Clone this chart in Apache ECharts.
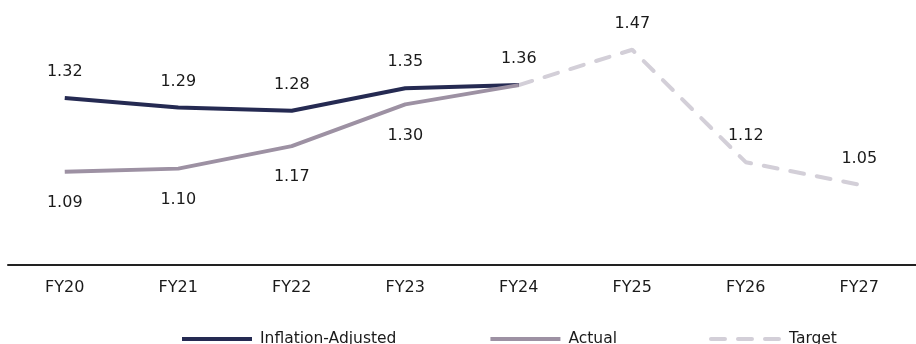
<!DOCTYPE html>
<html>
<head>
<meta charset="utf-8">
<script src="https://cdn.jsdelivr.net/npm/echarts@6/dist/echarts.min.js"></script>
<style>
  html, body { margin: 0; padding: 0; background: #ffffff; }
  #chart { width: 916px; height: 344px; }
</style>
</head>
<body>
<div id="chart"></div>
<script>
// Fiscal years on the category axis
const years = ['FY20', 'FY21', 'FY22', 'FY23', 'FY24', 'FY25', 'FY26', 'FY27'];

// Ratio values per fiscal year
const inflationAdjusted = [1.32, 1.29, 1.28, 1.35, 1.36, null, null, null];
const actual = [1.09, 1.10, 1.17, 1.30, 1.36, null, null, null];
const target = [null, null, null, null, 1.36, 1.47, 1.12, 1.05];

// Points whose value label is left off (shared FY24 junction)
const hideActualLabel = ['FY24'];
const hideTargetLabel = ['FY24'];

const FONT = 'DejaVu Sans';
const TEXT = '#1a1a1a';

function withLabels(values, hidden) {
  return values.map((v, i) => {
    if (v === null) return null;
    if (hidden.includes(years[i])) return { value: v, label: { show: false } };
    return v;
  });
}

const labelStyle = (pos, dist) => ({
  show: true,
  position: pos,
  distance: dist,
  color: TEXT,
  fontFamily: FONT,
  fontSize: 16,
  formatter: (p) => p.value.toFixed(2)
});

const chart = echarts.init(document.getElementById('chart'), null, { renderer: 'canvas' });

chart.setOption({
  animation: false,
  backgroundColor: '#ffffff',
  grid: { left: 8, right: -5, top: 8, bottom: 79, containLabel: false },
  xAxis: {
    type: 'category',
    data: years,
    boundaryGap: true,
    axisLine: { show: true, lineStyle: { color: '#222222', width: 2 } },
    axisTick: { show: false },
    axisLabel: { color: TEXT, fontFamily: FONT, fontSize: 16, margin: 15 },
    splitLine: { show: false }
  },
  yAxis: {
    type: 'value',
    min: 0.8,
    max: 1.6,
    show: false,
    splitLine: { show: false }
  },
  legend: {
    left: 175,
    top: 326,
    itemWidth: 70,
    itemHeight: 14,
    itemGap: 92,
    itemStyle: { opacity: 0 },
    lineStyle: { width: 4 },
    textStyle: { color: TEXT, fontFamily: FONT, fontSize: 15.5, padding: [0, 0, 0, 3] },
    data: ['Inflation-Adjusted', 'Actual', 'Target']
  },
  series: [
    {
      name: 'Inflation-Adjusted',
      type: 'line',
      data: withLabels(inflationAdjusted, []),
      symbol: 'circle',
      symbolSize: 0,
      showSymbol: true,
      color: '#252a52',
      lineStyle: { color: '#252a52', width: 4 },
      label: labelStyle('top', 18),
      z: 2
    },
    {
      name: 'Actual',
      type: 'line',
      data: withLabels(actual, hideActualLabel),
      symbol: 'circle',
      symbolSize: 0,
      showSymbol: true,
      color: '#9d91a3',
      lineStyle: { color: '#9d91a3', width: 4 },
      label: labelStyle('bottom', 23),
      z: 3
    },
    {
      name: 'Target',
      type: 'line',
      data: withLabels(target, hideTargetLabel),
      symbol: 'circle',
      symbolSize: 0,
      showSymbol: true,
      color: '#d3cfd8',
      lineStyle: { color: '#d3cfd8', width: 4, type: [14, 13], cap: 'round' },
      label: labelStyle('top', 18),
      z: 1
    }
  ]
});
</script>
</body>
</html>
